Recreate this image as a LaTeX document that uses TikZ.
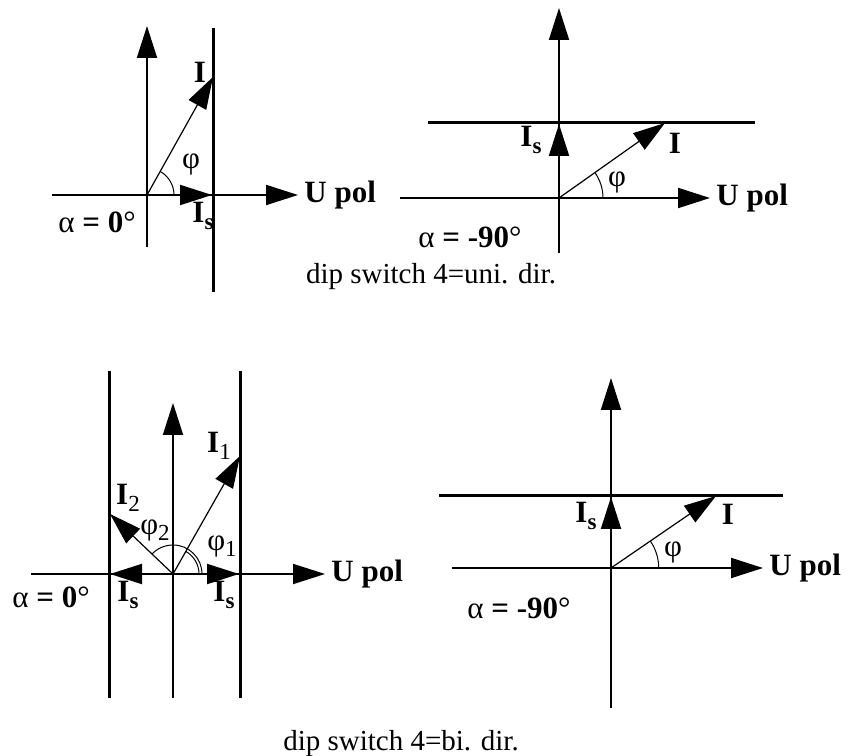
\documentclass[tikz,border=0pt]{standalone}
\usepackage{fontspec}
\setmainfont{Liberation Serif}
\usetikzlibrary{arrows.meta, positioning, calc}
\newcommand{\lowsub}[1]{\raisebox{-0.45ex}{\fontsize{11.5}{11.5}\selectfont #1}}

\begin{document}
\begin{tikzpicture}[
    x=0.5pt, y=0.5pt,
    font=\fontsize{14.5}{17}\selectfont,
    axis/.style={line width=1pt, -{Triangle[length=16pt, width=10pt]}},
    limit/.style={line width=1.5pt},
    phasor/.style={line width=0.6pt, -{Triangle[length=16pt, width=10pt]}},
    setvec/.style={line width=1pt, -{Triangle[length=16pt, width=10pt]}},
    angarc/.style={line width=0.5pt},
    lbl/.style={inner sep=0pt, font=\fontsize{15.5}{18}\selectfont\bfseries},
    sym/.style={inner sep=0pt, font=\fontsize{15.5}{18}\selectfont},
]
\useasboundingbox (0,0) rectangle (858,756);

% Uni. dir., alpha = 0
\coordinate (oA) at (147,561);
\coordinate (At) at (147,730);
\coordinate (Ab) at (147,509);
\coordinate (Al) at (52,561);
\coordinate (Ar) at (298,561);
\coordinate (AlimT) at (213,728);
\coordinate (AlimB) at (213,464);
\coordinate (AI) at (213,679);
\coordinate (AIs) at (212,561);
\draw[axis] (Ab) -- (At);
\draw[axis] (Al) -- (Ar);
\draw[limit] (AlimB) -- (AlimT);
\draw[phasor] (oA) -- (AI);
\draw[setvec] (oA) -- (AIs);
\draw[angarc] ([shift={(27,0)}]oA) arc[start angle=0, end angle=60.8, radius=27];
\node[lbl] (lAI) at (200,684) {I};
\node[sym] (lAphi) at (191,592) {φ};
\node[lbl] (lAIs) at (203,540) {I\lowsub{s}};
\node[right=3pt of Ar, lbl] (lAU) {U pol};
\node[sym] (lAalpha) at (97,534) {α \textbf{= 0}°};

% Uni. dir., alpha = -90
\coordinate (oB) at (559,558);
\coordinate (Bt) at (559,748);
\coordinate (Bb) at (559,503);
\coordinate (Bl) at (400,558);
\coordinate (Br) at (710,558);
\coordinate (BlimL) at (428,633);
\coordinate (BlimR) at (755,633);
\coordinate (BI) at (665,633);
\coordinate (BIs) at (559,632);
\draw[axis] (Bb) -- (Bt);
\draw[axis] (Bl) -- (Br);
\draw[limit] (BlimL) -- (BlimR);
\draw[setvec] (oB) -- (BIs);
\draw[phasor] (oB) -- (BI);
\draw[angarc] ([shift={(44,0)}]oB) arc[start angle=0, end angle=35.3, radius=44];
\node[lbl] (lBIs) at (531,616) {I\lowsub{s}};
\node[lbl] (lBI) at (675,613) {I};
\node[sym] (lBphi) at (617,574) {φ};
\node[right=3pt of Br, lbl] (lBU) {U pol};
\node[sym] (lBalpha) at (470,519) {α \textbf{= -90}°};

\node (capUni) at (431,479) {dip switch 4=uni. dir.};

% Bi. dir., alpha = 0
\coordinate (oC) at (173,182);
\coordinate (Ct) at (173,353);
\coordinate (Cb) at (173,58);
\coordinate (Cl) at (31,182);
\coordinate (Cr) at (325,182);
\coordinate (ClimLT) at (109,385);
\coordinate (ClimLB) at (109,58);
\coordinate (ClimRT) at (240,385);
\coordinate (ClimRB) at (240,58);
\coordinate (CIa) at (240,300);
\coordinate (CIb) at (110,242);
\coordinate (CIsL) at (110,182);
\coordinate (CIsR) at (239,182);
\draw[axis] (Cb) -- (Ct);
\draw[axis] (Cl) -- (Cr);
\draw[limit] (ClimLB) -- (ClimLT);
\draw[limit] (ClimRB) -- (ClimRT);
\draw[setvec] (oC) -- (CIsL);
\draw[setvec] (oC) -- (CIsR);
\draw[phasor] (oC) -- (CIa);
\draw[phasor] (oC) -- (CIb);
\draw[angarc] ([shift={(29,0)}]oC) arc[start angle=0, end angle=136.4, radius=29];
\draw[angarc] ([shift={(26,0)}]oC) arc[start angle=0, end angle=60.4, radius=26];
\node[lbl] (lCIa) at (219,310) {I\lowsub{\mdseries 1}};
\node[lbl] (lCIb) at (128,258) {I\lowsub{\mdseries 2}};
\node[sym] (lCphib) at (155,226) {φ\lowsub{2}};
\node[sym] (lCphia) at (222,210) {φ\lowsub{1}};
\node[lbl] (lCIsL) at (128,161) {I\lowsub{s}};
\node[lbl] (lCIsR) at (224,161) {I\lowsub{s}};
\node[right=3pt of Cr, lbl] (lCU) {U pol};
\node[sym] (lCalpha) at (51,159) {α \textbf{= 0}°};

% Bi. dir., alpha = -90
\coordinate (oD) at (611,188);
\coordinate (Dt) at (611,378);
\coordinate (Db) at (611,48);
\coordinate (Dl) at (452,188);
\coordinate (Dr) at (763,188);
\coordinate (DlimL) at (439,260);
\coordinate (DlimR) at (783,260);
\coordinate (DI) at (716,260);
\coordinate (DIs) at (611,259);
\draw[axis] (Db) -- (Dt);
\draw[axis] (Dl) -- (Dr);
\draw[limit] (DlimL) -- (DlimR);
\draw[setvec] (oD) -- (DIs);
\draw[phasor] (oD) -- (DI);
\draw[angarc] ([shift={(47.7,0)}]oD) arc[start angle=0, end angle=34.4, radius=47.7];
\node[lbl] (lDIs) at (586,240) {I\lowsub{s}};
\node[lbl] (lDI) at (728,242) {I};
\node[sym] (lDphi) at (673,204) {φ};
\node[right=3pt of Dr, lbl] (lDU) {U pol};
\node[sym] (lDalpha) at (519,148) {α \textbf{= -90}°};

\node (capBi) at (401,12) {dip switch 4=bi. dir.};

\end{tikzpicture}
\end{document}
